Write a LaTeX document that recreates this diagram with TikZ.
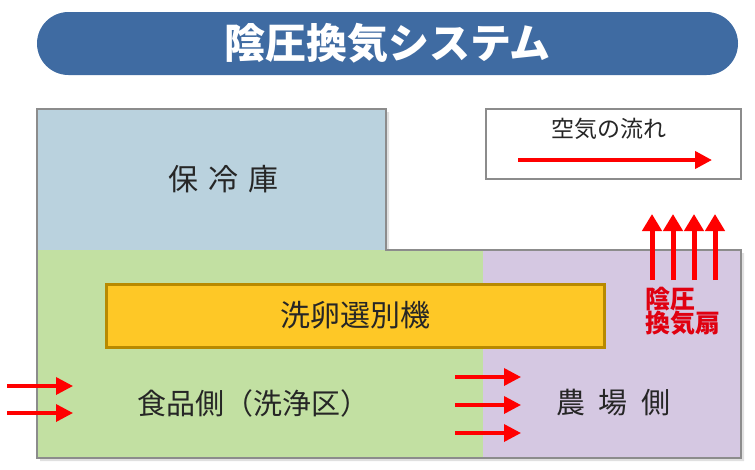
\documentclass[tikz,border=0pt]{standalone}
\usepackage{fontspec}
\setmainfont{Noto Sans CJK JP}
\usetikzlibrary{arrows.meta}
\definecolor{titleblue}{HTML}{3F6BA2}
\definecolor{coldblue}{HTML}{BAD2DE}
\definecolor{foodgreen}{HTML}{C2E0A2}
\definecolor{farmpurple}{HTML}{D5C8E2}
\definecolor{machinefill}{HTML}{FEC826}
\definecolor{machineedge}{HTML}{B88A00}
\definecolor{wallgray}{HTML}{8C8C8C}
\definecolor{airred}{HTML}{FF0000}
\definecolor{fanred}{HTML}{E00010}
\definecolor{textdark}{HTML}{262626}

\begin{document}
\begin{tikzpicture}[
    x=1pt, y=-1pt,
    >={Triangle[length=17pt,width=17pt]},
    banner/.style={fill=titleblue, rounded corners=31.5pt, minimum width=701pt, minimum height=63pt, text=white, font=\fontsize{41}{41}\selectfont\bfseries},
    wall/.style={draw=wallgray, line width=1.6pt},
    machine/.style={draw=machineedge, line width=3pt, fill=machinefill, minimum width=498pt, minimum height=63pt, font=\fontsize{30}{30}\selectfont, text=textdark},
    legendbox/.style={draw=wallgray, line width=1.4pt, fill=white, minimum width=255pt, minimum height=70pt},
    area/.style={font=\fontsize{29}{29}\selectfont, text=textdark, inner sep=0pt},
    flow/.style={->, draw=airred, line width=3.5pt},
    exhaust/.style={->, draw=airred, line width=5pt, >={Triangle[length=17pt,width=19pt]}},
    fanlabel/.style={font=\fontsize{25}{25}\selectfont\bfseries, text=fanred, align=left, inner sep=0pt}
]
    \useasboundingbox (0,0) rectangle (755,469);

    \node[banner] (title) at (387.5,43.5) {陰圧換気システム};

    \fill[black, opacity=0.12] (40,112) -- (389,112) -- (389,253) -- (744,253) -- (744,461) -- (40,461) -- cycle;
    \fill[coldblue] (37,109) rectangle (386,250);
    \fill[foodgreen] (37,250) rectangle (483,458);
    \fill[farmpurple] (483,250) rectangle (741,458);
    \draw[wall] (37,109) -- (386,109) -- (386,250) -- (741,250) -- (741,458) -- (37,458) -- cycle;

    \node[area, font=\fontsize{30}{30}\selectfont] (cold) at (223.5,179) {保\hspace{10pt}冷\hspace{10pt}庫};
    \node[machine] (washer) at (355,315.5) {洗卵選別機};
    \node[area] (food) at (253,403) {食品側（洗浄区）};
    \node[area] (farm) at (613.5,403) {農\hspace{14pt}場\hspace{14pt}側};

    \node[legendbox] (legend) at (613.5,144) {};
    \node[font=\fontsize{23}{23}\selectfont, text=textdark, inner sep=0pt] (legendtxt) at (609,129) {空気の流れ};
    \coordinate (lin) at (518,160);
    \coordinate (lout) at (712,160);
    \draw[flow, line width=4pt] (lin) -- (lout);

    \foreach \i/\y in {1/386,2/413} {
        \coordinate (in\i) at (7,\y);
        \coordinate (to\i) at (73,\y);
        \draw[flow] (in\i) -- (to\i);
    }
    \foreach \i/\y in {1/377,2/405,3/433} {
        \coordinate (gate\i) at (455,\y);
        \coordinate (farm\i) at (521,\y);
        \draw[flow] (gate\i) -- (farm\i);
    }
    \foreach \i/\x in {1/652,2/673,3/694,4/715} {
        \coordinate (fan\i) at (\x,280);
        \coordinate (out\i) at (\x,214);
        \draw[exhaust] (fan\i) -- (out\i);
    }

    \node[fanlabel, anchor=north west] (fan) at (645,287) {陰圧\\[-1pt]換気扇};
\end{tikzpicture}
\end{document}
